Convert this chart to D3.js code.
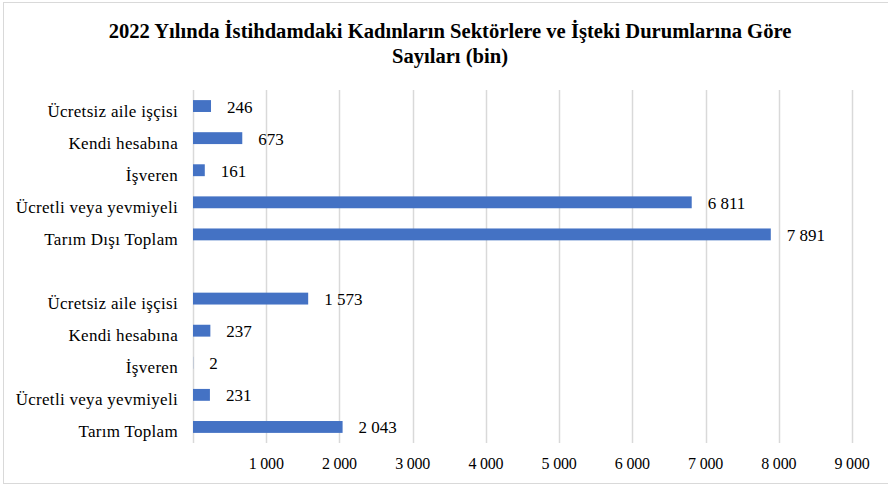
<!DOCTYPE html>
<html><head><meta charset="utf-8">
<script src="https://cdn.jsdelivr.net/npm/d3@7"></script>
</head><body style="margin:0"><svg id="c" width="888" height="486"></svg>
<script>
const categories = ["Ücretsiz aile işçisi","Kendi hesabına","İşveren","Ücretli veya yevmiyeli","Tarım Dışı Toplam","","Ücretsiz aile işçisi","Kendi hesabına","İşveren","Ücretli veya yevmiyeli","Tarım Toplam"];
const values = [246,673,161,6811,7891,null,1573,237,2,231,2043];
const tickValues = [0,1000,2000,3000,4000,5000,6000,7000,8000,9000];
const titleLines = ["2022 Yılında İstihdamdaki Kadınların Sektörlere ve İşteki Durumlarına Göre","Sayıları (bin)"];
const FONT = "'Liberation Serif'";

const svg = d3.select("#c");
svg.append("rect").attr("x",3.5).attr("y",2.5).attr("width",890).attr("height",481).attr("fill","none").attr("stroke","#d9d9d9");

const x = d3.scaleLinear().domain([0,9000]).range([193,852]);
const y = d3.scaleBand().domain(d3.range(categories.length)).range([90,443]).paddingInner(0.63).paddingOuter(0.315);
const fmt = v => d3.format(",")(v).replace(/,/g," ");

svg.append("g").selectAll("line").data(tickValues).join("line")
  .attr("x1",d=>Math.round(x(d))+0.5).attr("x2",d=>Math.round(x(d))+0.5)
  .attr("y1",90).attr("y2",443).attr("stroke","#d9d9d9").attr("stroke-width",1.5);

svg.append("g").selectAll("text").data(tickValues.filter(d=>d>0)).join("text")
  .attr("x",d=>x(d)).attr("y",469).attr("text-anchor","middle")
  .style("font-family",FONT).style("font-size","16px").style("letter-spacing","-0.2px")
  .text(fmt);

const idx = d3.range(categories.length).filter(i=>values[i]!=null);
svg.append("g").selectAll("rect").data(idx).join("rect")
  .attr("x",x(0)).attr("y",i=>y(i)).attr("width",i=>x(values[i])-x(0)).attr("height",y.bandwidth())
  .attr("fill","#4472c4");

svg.append("g").selectAll("text").data(idx).join("text")
  .attr("x",i=>x(values[i])+16).attr("y",i=>y(i)+y.bandwidth()/2+6.5)
  .style("font-family",FONT).style("font-size","17px").text(i=>fmt(values[i]));

svg.append("g").selectAll("text").data(d3.range(categories.length)).join("text")
  .attr("x",178).attr("y",i=>y(i)+y.bandwidth()/2+10.5).attr("text-anchor","end")
  .style("font-family",FONT).style("font-size","17px").style("letter-spacing","0.3px").text(i=>categories[i]);

svg.append("g").selectAll("text").data(titleLines).join("text")
  .attr("x",450).attr("y",(d,i)=>38+i*25).attr("text-anchor","middle")
  .style("font-family",FONT).style("font-size","20.6px").style("font-weight","bold").text(d=>d);
</script></body></html>
